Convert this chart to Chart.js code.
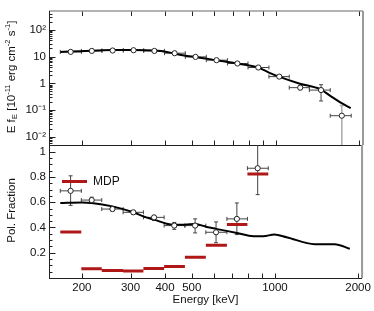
<!DOCTYPE html>
<html>
<head>
<meta charset="utf-8">
<script src="https://cdn.jsdelivr.net/npm/chart.js@4/dist/chart.umd.min.js"></script>
<style>
  html, body { margin: 0; padding: 0; background: #fff; }
  #wrap { position: relative; width: 374px; height: 311px; }
  canvas { position: absolute; left: 0; top: 0; }
</style>
</head>
<body>
<div id="wrap">
  <canvas id="fluxChart" width="374" height="311"></canvas>
  <canvas id="polChart" width="374" height="311"></canvas>
</div>
<script>
// energy bins (keV)
const binCenters = [182, 217, 258, 307, 365, 432, 514, 612, 728, 866, 1031, 1227, 1459, 1734];
const binLow = [167, 199, 236, 282, 334, 397, 472, 562, 670, 795, 946, 1120, 1324, 1575];
const binHigh = [199, 236, 282, 334, 397, 472, 562, 670, 795, 946, 1120, 1324, 1575, 1875];

// E f_E spectrum, units of 1e-11 erg cm^-2 s^-1
const fluxValues = [14.9, 16.2, 16.8, 17.2, 16.2, 13.3, 9.7, 7.3, 5.5, 3.9, 1.78, 0.69, 0.56, 0.062];
const fluxLow = [14.3, 15.6, 16.2, 16.6, 15.6, 12.7, 9.2, 6.9, 5.1, 3.6, 1.6, 0.58, 0.22, 0.001];
const fluxHigh = [15.5, 16.8, 17.4, 17.8, 16.8, 13.9, 10.2, 7.7, 5.9, 4.2, 1.95, 0.8, 0.89, 0.15];

const fluxModelE = [167, 182, 217, 258, 307, 365, 405, 432, 480, 514, 612, 728, 864, 946, 1028, 1224, 1453, 1580, 1718, 1867];
const fluxModel = [14.9, 15.4, 16.6, 17.4, 17.6, 16.8, 14.9, 12.9, 10.5, 9.66, 7.27, 5.47, 3.9, 2.52, 1.78, 0.97, 0.595, 0.334, 0.19, 0.118];

// polarization fraction (first 10 bins)
const polValues = [0.69, 0.617, 0.546, 0.52, 0.48, 0.415, 0.415, 0.362, 0.468, 0.869];
const polLow = [0.575, 0.59, 0.53, 0.505, 0.455, 0.385, 0.357, 0.279, 0.344, 0.66];
const polHigh = [0.809, 0.64, 0.56, 0.535, 0.495, 0.44, 0.468, 0.444, 0.594, 1.1];
const mdpValues = [0.365, 0.074, 0.06, 0.055, 0.076, 0.092, 0.165, 0.26, 0.423, 0.824];

const polModelE = [167, 200, 217, 258, 307, 334, 365, 405, 432, 472, 514, 566, 612, 728, 836, 908, 995, 1102, 1393, 1645, 1867];
const polModel = [0.594, 0.598, 0.594, 0.567, 0.52, 0.488, 0.462, 0.43, 0.422, 0.422, 0.428, 0.404, 0.389, 0.357, 0.331, 0.331, 0.344, 0.323, 0.268, 0.268, 0.231];

// axes
const energyTicks = [200, 300, 400, 500, 1000, 2000];
const energyMinorTicks = [600, 700, 800, 900];
const fluxTicks = [0.01, 0.1, 1, 10, 100];
const fluxTickLabels = ['10\u207B\u00B2', '10\u207B\u00B9', '1', '10', '10\u00B2'];
const polTicks = [0.2, 0.4, 0.6, 0.8, 1];
const polMinorTicks = [0.05, 0.1, 0.15, 0.25, 0.3, 0.35, 0.45, 0.5, 0.55, 0.65, 0.7, 0.75, 0.85, 0.9, 0.95, 1.05];

const FONT = "'Liberation Sans', Arial, sans-serif";
const RED = '#b01818';

function points(xs, ys) {
  return xs.map((x, i) => ({ x, y: ys[i] }));
}

// horizontal segments split by gaps
function segments(lo, hi, ys) {
  const out = [];
  ys.forEach((y, i) => {
    out.push({ x: lo[i], y }, { x: hi[i], y }, { x: hi[i], y: null });
  });
  return out;
}

const errorBarPlugin = {
  id: 'errbars',
  beforeDatasetsDraw(chart, args, opts) {
    const { ctx, chartArea: a, scales } = chart;
    const xs = scales.x, ys = scales.y;
    ctx.save();
    ctx.beginPath();
    ctx.rect(a.left, a.top, a.right - a.left, a.bottom - a.top);
    ctx.clip();
    ctx.lineWidth = 1;
    opts.y.forEach((v, i) => {
      const px = xs.getPixelForValue(opts.x[i]);
      const py = ys.getPixelForValue(v);
      const x1 = xs.getPixelForValue(opts.xLo[i]);
      const x2 = xs.getPixelForValue(opts.xHi[i]);
      const y1 = ys.getPixelForValue(opts.yLo[i]);
      const y2 = ys.getPixelForValue(opts.yHi[i]);
      ctx.strokeStyle = '#444';
      ctx.beginPath();
      ctx.moveTo(x1, py); ctx.lineTo(x2, py);
      ctx.moveTo(x1, py - 2); ctx.lineTo(x1, py + 2);
      ctx.moveTo(x2, py - 2); ctx.lineTo(x2, py + 2);
      ctx.stroke();
      // lower bound off the axis -> drawn lighter
      ctx.strokeStyle = y1 > a.bottom ? '#aaa' : '#444';
      ctx.lineWidth = y1 > a.bottom ? 1.5 : 1;
      ctx.beginPath();
      ctx.moveTo(px, y1); ctx.lineTo(px, y2);
      ctx.moveTo(px - 2, y2); ctx.lineTo(px + 2, y2);
      if (y1 <= a.bottom) { ctx.moveTo(px - 2, y1); ctx.lineTo(px + 2, y1); }
      ctx.stroke();
      ctx.lineWidth = 1;
    });
    ctx.restore();
  }
};

const framePlugin = {
  id: 'frame',
  afterDraw(chart, args, opts) {
    const { ctx, chartArea: a, scales } = chart;
    const line = (x1, y1, x2, y2) => { ctx.beginPath(); ctx.moveTo(x1, y1); ctx.lineTo(x2, y2); ctx.stroke(); };
    ctx.save();
    ctx.strokeStyle = '#222';
    ctx.lineWidth = 1;
    const L = a.left + 0.5, B = Math.round(a.bottom) + 0.5;
    energyTicks.concat(energyMinorTicks).forEach(v => {
      const x = Math.round(scales.x.getPixelForValue(v)) + 0.5;
      line(x, B, x, B - 5);
      if (opts.topTicks) line(x, a.top, x, a.top + 5);
    });
    opts.yMajor.forEach(v => {
      const y = Math.round(scales.y.getPixelForValue(v)) + 0.5;
      line(L, y, L + 6, y);
    });
    opts.yMinor.forEach(v => {
      const y = Math.round(scales.y.getPixelForValue(v)) + 0.5;
      line(L, y, L + 3, y);
    });
    // right and top edges grey
    ctx.strokeStyle = '#9a9a9a';
    ctx.lineWidth = 2;
    line(a.right, a.top, a.right, a.bottom);
    if (opts.topEdge) { ctx.lineWidth = 1.5; line(a.left, a.top, a.right, a.top); }
    ctx.strokeStyle = '#222';
    ctx.lineWidth = 1;
    line(L, a.top, L, a.bottom);
    line(a.left, B, a.right, B);
    ctx.restore();
  }
};

// y titles with sub/superscripts
function drawRichText(ctx, x, y, pieces) {
  ctx.save();
  ctx.translate(x, y);
  ctx.rotate(-Math.PI / 2);
  ctx.fillStyle = '#111';
  ctx.textBaseline = 'middle';
  let total = 0;
  pieces.forEach(p => { ctx.font = p[1] + 'px ' + FONT; total += ctx.measureText(p[0]).width; });
  let cx = -total / 2;
  pieces.forEach(p => {
    ctx.font = p[1] + 'px ' + FONT;
    ctx.fillText(p[0], cx, p[2]);
    cx += ctx.measureText(p[0]).width;
  });
  ctx.restore();
}

const titlePlugin = {
  id: 'ytitle',
  afterDraw(chart, args, opts) {
    const a = chart.chartArea;
    drawRichText(chart.ctx, 12, (a.top + a.bottom) / 2 - 1, opts.pieces);
  }
};

const legendPlugin = {
  id: 'mdpLegend',
  afterDraw(chart) {
    const { ctx, chartArea: a } = chart;
    ctx.save();
    ctx.strokeStyle = RED;
    ctx.lineWidth = 3;
    ctx.beginPath();
    ctx.moveTo(a.left + 13, 181.5);
    ctx.lineTo(a.left + 38, 181.5);
    ctx.stroke();
    ctx.fillStyle = '#111';
    ctx.font = '12px ' + FONT;
    ctx.textBaseline = 'middle';
    ctx.fillText('MDP', a.left + 44, 182);
    ctx.restore();
  }
};

function logMinors(min, max) {
  const out = [];
  for (let k = -3; k <= 2; k++) {
    for (let m = 2; m <= 9; m++) {
      const v = m * Math.pow(10, k);
      if (v > min && v < max) out.push(v);
    }
  }
  return out;
}

const xRange = { min: 152, max: 2068 };

function initCharts() {
  new Chart(document.getElementById('fluxChart'), {
    data: {
      datasets: [
        {
          type: 'scatter',
          data: points(binCenters, fluxValues),
          pointRadius: 2.6,
          pointBorderWidth: 1,
          pointBorderColor: '#222',
          pointBackgroundColor: '#fff',
          order: 0
        },
        {
          type: 'line',
          data: points(fluxModelE, fluxModel),
          borderColor: '#000',
          borderWidth: 2,
          pointRadius: 0,
          cubicInterpolationMode: 'monotone',
          order: 1
        }
      ]
    },
    options: {
      responsive: false,
      animation: false,
      devicePixelRatio: 1,
      layout: { padding: { top: 11, right: 11, bottom: 166, left: 0 } },
      plugins: {
        legend: { display: false },
        tooltip: { enabled: false },
        errbars: { x: binCenters, xLo: binLow, xHi: binHigh, y: fluxValues, yLo: fluxLow, yHi: fluxHigh },
        frame: { topTicks: true, topEdge: true, yMajor: fluxTicks, yMinor: logMinors(0.005, 500) },
        ytitle: {
          pieces: [
            ['E f', 11.5, 0], ['E', 8, 3], [' [10', 11.5, 0], ['-11', 7.5, -4],
            [' erg cm', 11.5, 0], ['-2', 7.5, -4], [' s', 11.5, 0], ['-1', 7.5, -4], [']', 11.5, 0]
          ]
        }
      },
      scales: {
        x: { type: 'logarithmic', display: false, min: xRange.min, max: xRange.max },
        y: {
          type: 'logarithmic',
          min: 0.005,
          max: 500,
          grid: { display: false, drawTicks: false },
          border: { display: false },
          afterBuildTicks: s => { s.ticks = fluxTicks.map(v => ({ value: v })); },
          afterFit: s => { s.width = 49; },
          ticks: {
            padding: 3,
            color: '#111',
            font: { family: FONT, size: 11.5 },
            callback: (v, i) => fluxTickLabels[i]
          }
        }
      }
    },
    plugins: [errorBarPlugin, framePlugin, titlePlugin]
  });

  new Chart(document.getElementById('polChart'), {
    data: {
      datasets: [
        {
          type: 'scatter',
          data: points(binCenters.slice(0, polValues.length), polValues),
          pointRadius: 2.6,
          pointBorderWidth: 1,
          pointBorderColor: '#222',
          pointBackgroundColor: '#fff',
          order: 0
        },
        {
          type: 'line',
          data: points(polModelE, polModel),
          borderColor: '#000',
          borderWidth: 2,
          pointRadius: 0,
          cubicInterpolationMode: 'monotone',
          order: 1
        },
        {
          type: 'line',
          data: segments(binLow, binHigh, mdpValues),
          borderColor: RED,
          borderWidth: 3,
          pointRadius: 0,
          spanGaps: false,
          order: 2
        }
      ]
    },
    options: {
      responsive: false,
      animation: false,
      devicePixelRatio: 1,
      layout: { padding: { top: 145, right: 11, bottom: 0, left: 0 } },
      plugins: {
        legend: { display: false },
        tooltip: { enabled: false },
        errbars: {
          x: binCenters, xLo: binLow, xHi: binHigh,
          y: polValues, yLo: polLow, yHi: polHigh
        },
        frame: { topTicks: false, topEdge: false, yMajor: polTicks, yMinor: polMinorTicks },
        ytitle: { pieces: [['Pol. Fraction', 11.5, 0]] }
      },
      scales: {
        x: {
          type: 'logarithmic',
          min: xRange.min,
          max: xRange.max,
          grid: { display: false, drawTicks: false },
          border: { display: false },
          afterBuildTicks: s => { s.ticks = energyTicks.map(v => ({ value: v })); },
          afterFit: s => { s.height = 33; },
          ticks: {
            padding: 3,
            autoSkip: false,
            maxRotation: 0,
            color: '#111',
            font: { family: FONT, size: 11.5 },
            callback: v => String(v)
          },
          title: {
            display: true,
            text: 'Energy [keV]',
            color: '#111',
            font: { family: FONT, size: 11.5 },
            padding: { top: 0, bottom: 4 }
          }
        },
        y: {
          type: 'linear',
          min: 0,
          max: 1.053,
          grid: { display: false, drawTicks: false },
          border: { display: false },
          afterBuildTicks: s => { s.ticks = polTicks.map(v => ({ value: v })); },
          afterFit: s => { s.width = 49; },
          ticks: {
            padding: 3,
            color: '#111',
            font: { family: FONT, size: 11.5 },
            callback: v => String(v)
          }
        }
      }
    },
    plugins: [errorBarPlugin, framePlugin, titlePlugin, legendPlugin]
  });
}

if (document.readyState === 'loading') {
  document.addEventListener('DOMContentLoaded', initCharts);
} else {
  initCharts();
}
</script>
</body>
</html>
